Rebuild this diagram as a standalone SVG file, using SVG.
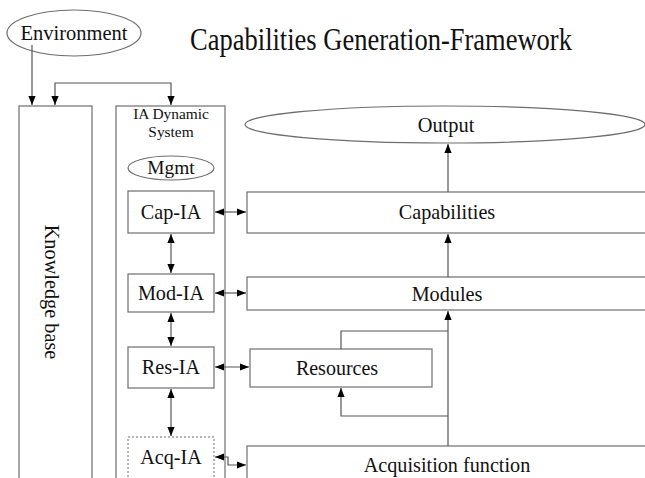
<svg xmlns="http://www.w3.org/2000/svg" width="645" height="478" viewBox="0 0 645 478">
<defs>
<marker id="ah" viewBox="0 0 10 10" refX="10" refY="5" markerWidth="9" markerHeight="9" markerUnits="userSpaceOnUse" orient="auto-start-reverse">
<path d="M0,1 L10,5 L0,9 z" fill="#000"/>
</marker>
</defs>
<style>
.box{fill:#fff;stroke:#6e6e6e;stroke-width:1.2}
.dot{fill:#fff;stroke:#6e6e6e;stroke-width:1;stroke-dasharray:2,2}
.t{fill:#111;text-anchor:middle}
.c{fill:none;stroke:#555;stroke-width:1.2}
</style>
<rect width="645" height="478" fill="#fff"/>
<g font-family="'Liberation Serif', 'DejaVu Serif', serif">
<text class="t" font-size="26.5" transform="translate(381,50) scale(1,1.22)">Capabilities Generation-Framework</text>

<g id="environment">
<ellipse class="box" cx="74" cy="33" rx="67" ry="23"/>
<text class="t" x="74" y="40" font-size="20.5">Environment</text>
</g>
<g id="knowledge-base">
<rect class="box" x="19" y="106" width="73" height="380"/>
<text class="t" font-size="20.3" transform="translate(45,292) rotate(90)">Knowledge base</text>
</g>
<g id="ia-dynamic-system">
<rect class="box" x="116" y="106" width="109" height="380"/>
<text class="t" x="171" y="119" font-size="15.4">IA Dynamic</text>
<text class="t" x="171" y="137" font-size="15.4">System</text>
</g>
<g id="mgmt">
<ellipse class="box" cx="171" cy="168" rx="43" ry="12"/>
<text class="t" x="171" y="174" font-size="19.4">Mgmt</text>
</g>
<g id="cap-ia">
<rect class="box" x="128" y="191" width="86" height="42"/>
<text class="t" x="171" y="219" font-size="20.2">Cap-IA</text>
</g>
<g id="mod-ia">
<rect class="box" x="128" y="274" width="86" height="38"/>
<text class="t" x="171" y="300" font-size="20.2">Mod-IA</text>
</g>
<g id="res-ia">
<rect class="box" x="128" y="347" width="86" height="41"/>
<text class="t" x="171" y="374" font-size="20.2">Res-IA</text>
</g>
<g id="acq-ia">
<rect class="dot" x="128" y="437" width="86" height="50"/>
<text class="t" x="171" y="464" font-size="20.2">Acq-IA</text>
</g>
<g id="output">
<ellipse class="box" cx="445" cy="124.5" rx="200" ry="18.5"/>
<text class="t" x="446" y="132" font-size="20.4">Output</text>
</g>
<g id="capabilities">
<rect class="box" x="247" y="192" width="410" height="41"/>
<text class="t" x="447" y="219" font-size="20.2">Capabilities</text>
</g>
<g id="modules">
<rect class="box" x="247" y="277" width="410" height="33"/>
<text class="t" x="447" y="301" font-size="20.2">Modules</text>
</g>
<g id="resources">
<rect class="box" x="250" y="349" width="182" height="38"/>
<text class="t" x="337" y="375" font-size="20">Resources</text>
</g>
<g id="acquisition-function">
<rect class="box" x="247" y="446" width="410" height="50"/>
<text class="t" x="447" y="472" font-size="20.2">Acquisition function</text>
</g>
</g>

<g id="connectors">
<path class="c" d="M32,45 V105" marker-end="url(#ah)"/>
<path class="c" d="M55,105 V83 H171 V105" marker-start="url(#ah)" marker-end="url(#ah)"/>
<path class="c" d="M171,234 V273" marker-start="url(#ah)" marker-end="url(#ah)"/>
<path class="c" d="M171,313 V346" marker-start="url(#ah)" marker-end="url(#ah)"/>
<path class="c" d="M171,389 V436" marker-start="url(#ah)" marker-end="url(#ah)"/>
<path class="c" d="M215,212 H246" marker-start="url(#ah)" marker-end="url(#ah)"/>
<path class="c" d="M215,293 H246" marker-start="url(#ah)" marker-end="url(#ah)"/>
<path class="c" d="M215,367 H249" marker-start="url(#ah)" marker-end="url(#ah)"/>
<path class="c" d="M215,457 H228 V465 H246" marker-start="url(#ah)" marker-end="url(#ah)"/>
<path class="c" d="M448,192 V144" marker-end="url(#ah)"/>
<path class="c" d="M448,277 V234" marker-end="url(#ah)"/>
<path class="c" d="M448,446 V311" marker-end="url(#ah)"/>
<path class="c" d="M448,416 H341 V388" marker-end="url(#ah)"/>
<path class="c" d="M341,349 V331 H448"/>
</g>
</svg>
